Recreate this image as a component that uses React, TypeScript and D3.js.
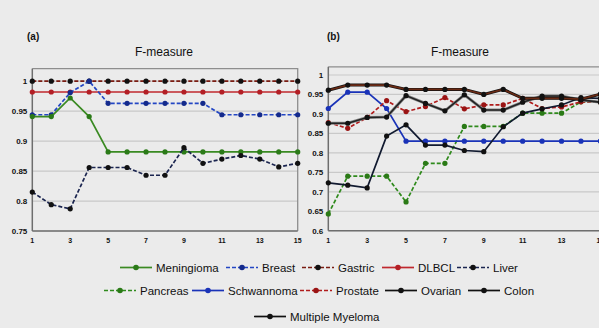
import React from "react";
import * as d3 from "d3";

const iterations = [1, 2, 3, 4, 5, 6, 7, 8, 9, 10, 11, 12, 13, 14, 15];
const xTickLabels = [1, 3, 5, 7, 9, 11, 13, 15];
const yTicksA = [0.75, 0.8, 0.85, 0.9, 0.95, 1];
const yTicksB = [0.6, 0.65, 0.7, 0.75, 0.8, 0.85, 0.9, 0.95, 1];

// Panel (a)
const meningioma = [0.941, 0.941, 0.972, 0.941, 0.882, 0.882, 0.882, 0.882, 0.882, 0.882, 0.882, 0.882, 0.882, 0.882, 0.882];
const breast = [0.944, 0.944, 0.981, 1.0, 0.963, 0.963, 0.963, 0.963, 0.963, 0.963, 0.944, 0.944, 0.944, 0.944, 0.944];
const gastric = [1, 1, 1, 1, 1, 1, 1, 1, 1, 1, 1, 1, 1, 1, 1];
const dlbcl = [0.982, 0.982, 0.982, 0.982, 0.982, 0.982, 0.982, 0.982, 0.982, 0.982, 0.982, 0.982, 0.982, 0.982, 0.982];
const liver = [0.815, 0.794, 0.787, 0.856, 0.856, 0.856, 0.843, 0.843, 0.889, 0.863, 0.87, 0.876, 0.87, 0.857, 0.863];

// Panel (b)
const pancreas = [0.643, 0.74, 0.74, 0.74, 0.674, 0.773, 0.773, 0.868, 0.868, 0.868, 0.902, 0.902, 0.902, 0.931, 0.93];
const schwannoma = [0.914, 0.956, 0.956, 0.914, 0.83, 0.83, 0.83, 0.83, 0.83, 0.83, 0.83, 0.83, 0.83, 0.83, 0.83];
const prostate = [0.878, 0.863, 0.891, 0.934, 0.906, 0.919, 0.942, 0.913, 0.923, 0.923, 0.94, 0.914, 0.918, 0.931, 0.93];
const ovarian = [0.876, 0.876, 0.891, 0.892, 0.947, 0.927, 0.908, 0.949, 0.91, 0.91, 0.93, 0.946, 0.946, 0.936, 0.93];
const colon = [0.723, 0.717, 0.71, 0.843, 0.872, 0.82, 0.82, 0.806, 0.803, 0.867, 0.902, 0.913, 0.923, 0.942, 0.94];
const myeloma = [0.961, 0.974, 0.974, 0.974, 0.963, 0.963, 0.963, 0.963, 0.95, 0.963, 0.94, 0.94, 0.94, 0.938, 0.951];

type S = { name: string; values: number[]; color: string; marker: string; dash?: string; under?: string };

const seriesA: S[] = [
  { name: "DLBCL", values: dlbcl, color: "#c0282e", marker: "#b31f25" },
  { name: "Gastric", values: gastric, color: "#7a1c12", marker: "#111", dash: "4,2" },
  { name: "Breast", values: breast, color: "#2346c4", marker: "#142a8c", dash: "4,2" },
  { name: "Meningioma", values: meningioma, color: "#3a8a22", marker: "#2b7a18" },
  { name: "Liver", values: liver, color: "#1b2550", marker: "#111", dash: "4,2" },
];

const seriesB: S[] = [
  { name: "Pancreas", values: pancreas, color: "#2f8a1c", marker: "#2a7a16", dash: "4,2" },
  { name: "Schwannoma", values: schwannoma, color: "#1a33b8", marker: "#1a33b8" },
  { name: "Prostate", values: prostate, color: "#b01c1c", marker: "#9a1414", dash: "4,2" },
  { name: "Ovarian", values: ovarian, color: "#222", marker: "#111", under: "#888" },
  { name: "Colon", values: colon, color: "#111a30", marker: "#111" },
  { name: "Multiple Myeloma", values: myeloma, color: "#6a2a14", marker: "#111", under: "#111" },
];

const legendItems: { name: string; color: string; marker: string; dash?: string; row: number; x: number }[] = [
  { name: "Meningioma", color: "#3a8a22", marker: "#2b7a18", row: 0, x: 120 },
  { name: "Breast", color: "#2346c4", marker: "#142a8c", dash: "4,2", row: 0, x: 226 },
  { name: "Gastric", color: "#7a1c12", marker: "#111", dash: "4,2", row: 0, x: 302 },
  { name: "DLBCL", color: "#c0282e", marker: "#b31f25", row: 0, x: 382 },
  { name: "Liver", color: "#1b2550", marker: "#111", dash: "4,2", row: 0, x: 457 },
  { name: "Pancreas", color: "#2f8a1c", marker: "#2a7a16", dash: "4,2", row: 1, x: 104 },
  { name: "Schwannoma", color: "#1a33b8", marker: "#1a33b8", row: 1, x: 192 },
  { name: "Prostate", color: "#b01c1c", marker: "#9a1414", dash: "4,2", row: 1, x: 300 },
  { name: "Ovarian", color: "#111", marker: "#111", row: 1, x: 385 },
  { name: "Colon", color: "#111", marker: "#111", row: 1, x: 468 },
  { name: "Multiple Myeloma", color: "#111", marker: "#111", row: 2, x: 254 },
];
const legendRowY = [267.5, 290.5, 316.5];

const FONT = "'Liberation Sans Narrow', 'Arial Narrow', 'Liberation Sans', Arial, sans-serif";
const BG = "#ebebeb";

function Panel(props: {
  label: string; series: S[]; x0: number; x1: number; yBottom: number; yOne: number;
  yMin: number; ticks: number[]; labelX: number; titleX: number; tickFmt: (v: number) => string;
}) {
  const { series, ticks } = props;
  const x = d3.scaleLinear().domain([1, 15]).range([props.x0, props.x1]);
  const y = d3.scaleLinear().domain([props.yMin, 1]).range([props.yBottom, props.yOne]);
  const top = y(1.021);
  const line = d3.line<number>().x((_, i) => x(iterations[i])).y((d) => y(d));
  const frameRight = Math.min(props.x1, 598.5);
  return (
    <g>
      <text x={props.labelX} y={40} fontFamily={FONT} fontWeight="bold" fontSize={10} fill="#111">{props.label}</text>
      <text x={props.titleX} y={56} textAnchor="middle" fontFamily={FONT} fontSize={12} fill="#111">F-measure</text>
      {ticks.map((t) => (
        <line key={"g" + t} x1={props.x0} x2={props.x1} y1={y(t)} y2={y(t)} stroke="#c9c9c9" strokeWidth={1.2} />
      ))}
      <line x1={props.x0} x2={frameRight + 0.5} y1={top} y2={top} stroke="#8e8e8e" strokeWidth={1.3} />
      {props.x1 < 598 && <line x1={props.x1} x2={props.x1} y1={top} y2={props.yBottom} stroke="#8e8e8e" strokeWidth={1.3} />}
      <line x1={props.x0} x2={props.x0} y1={top} y2={props.yBottom} stroke="#6e6e6e" strokeWidth={1.5} />
      <line x1={props.x0} x2={props.x1} y1={props.yBottom} y2={props.yBottom} stroke="#6e6e6e" strokeWidth={1.5} />
      {ticks.map((t) => (
        <text key={"t" + t} x={props.x0 - 5} y={y(t) + 3} textAnchor="end" fontFamily={FONT} fontWeight="bold" fontSize={8} fill="#111">
          {props.tickFmt(t)}
        </text>
      ))}
      {xTickLabels.map((v) => (
        <text key={"x" + v} x={x(v)} y={props.yBottom + 12} textAnchor="middle" fontFamily={FONT} fontWeight="bold" fontSize={7} fill="#111">
          {v}
        </text>
      ))}
      {series.map((s) => (
        <g key={s.name}>
          {s.under && <path d={line(s.values) || ""} fill="none" stroke={s.under} strokeWidth={3} />}
          <path d={line(s.values) || ""} fill="none" stroke={s.color} strokeWidth={s.under ? 1.6 : 1.7} strokeDasharray={s.dash} />
          {s.values.map((v, i) => (
            <circle key={i} cx={x(iterations[i])} cy={y(v)} r={2.6} fill={s.marker} />
          ))}
        </g>
      ))}
    </g>
  );
}

export default function App() {
  const fmt = (v: number) => (v === 1 ? "1" : d3.format("")(v));
  return (
    <svg width={599} height={328} style={{ position: "absolute", left: 0, top: 0, background: BG }}>
      <rect x={0} y={0} width={599} height={328} fill={BG} />
      <Panel label="(a)" series={seriesA} x0={32.3} x1={297.7} yBottom={231} yOne={81.2} yMin={0.75}
        ticks={yTicksA} labelX={27} titleX={164} tickFmt={fmt} />
      <Panel label="(b)" series={seriesB} x0={328.3} x1={600.4} yBottom={230.7} yOne={75} yMin={0.6}
        ticks={yTicksB} labelX={327} titleX={460} tickFmt={fmt} />
      {legendItems.map((it) => {
        const cy = legendRowY[it.row];
        return (
          <g key={it.name}>
            <line x1={it.x} x2={it.x + 32} y1={cy} y2={cy} stroke={it.color} strokeWidth={1.7} strokeDasharray={it.dash} />
            <circle cx={it.x + 16} cy={cy} r={2.8} fill={it.marker} />
            <text x={it.x + 36} y={cy + 4} fontFamily={FONT} fontSize={11.5} fill="#111">{it.name}</text>
          </g>
        );
      })}
    </svg>
  );
}
